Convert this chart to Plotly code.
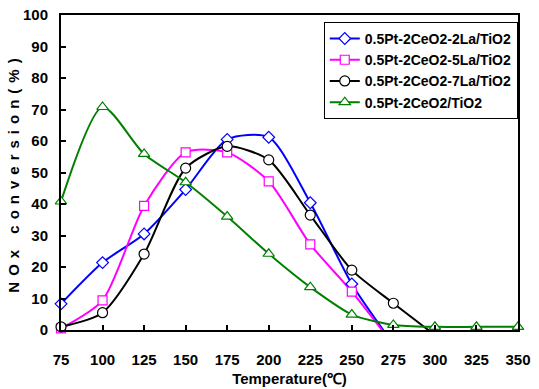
import plotly.graph_objects as go

temps = [75, 100, 125, 150, 175, 200, 225, 250, 275, 300, 325, 350]

la2_x = [75, 100, 125, 150, 175, 200, 225, 250, 275]
la2_y = [8.3, 21.4, 30.5, 44.6, 60.5, 61.2, 40.4, 14.6, -4.5]

la5_x = [75, 100, 125, 150, 175, 200, 225, 250, 275]
la5_y = [0.5, 9.4, 39.4, 56.4, 56.4, 47.2, 27.2, 12.2, -4.7]

la7_x = [75, 100, 125, 150, 175, 200, 225, 250, 275, 300]
la7_y = [1.0, 5.5, 24.1, 51.4, 58.3, 54.0, 36.5, 19.0, 8.5, -1.6]

ce_x = [75, 100, 125, 150, 175, 200, 225, 250, 275, 300, 325, 350]
ce_y = [40.8, 70.8, 55.9, 46.9, 36.0, 24.2, 13.6, 4.9, 1.6, 1.0, 1.0, 1.0]

names = ["0.5Pt-2CeO2-2La/TiO2", "0.5Pt-2CeO2-5La/TiO2",
         "0.5Pt-2CeO2-7La/TiO2", "0.5Pt-2CeO2/TiO2"]
colors = ["#0000FF", "#FF00FF", "#000000", "#008000"]
symbols = ["diamond", "square", "circle", "triangle-up"]
sizes = [9, 9, 10, 10]

FONT = "Liberation Sans, Arial, sans-serif"

fig = go.Figure()
series = [(la2_x, la2_y), (la5_x, la5_y), (la7_x, la7_y), (ce_x, ce_y)]
for i, (xs, ys) in enumerate(series):
    fig.add_trace(go.Scatter(
        x=xs, y=ys, mode="lines", line=dict(color=colors[i], width=2, shape="spline", smoothing=0.7),
        showlegend=False, hoverinfo="skip"))
for i, (xs, ys) in enumerate(series):
    px = [x for x, y in zip(xs, ys) if y >= 0]
    py = [y for y in ys if y >= 0]
    fig.add_trace(go.Scatter(
        x=px, y=py, mode="markers", name=names[i], cliponaxis=False,
        marker=dict(symbol=symbols[i], size=sizes[i], color="white",
                    line=dict(color=colors[i], width=1.2)),
        showlegend=False))
    fig.add_trace(go.Scatter(
        x=[None], y=[None], mode="lines+markers", name="<b>" + names[i] + "</b>",
        line=dict(color=colors[i], width=2),
        marker=dict(symbol=symbols[i], size=sizes[i], color="white",
                    line=dict(color=colors[i], width=1.2))))

fig.update_layout(
    width=539, height=389,
    margin=dict(l=61, r=21, t=15, b=59, autoexpand=False),
    plot_bgcolor="white", paper_bgcolor="white",
    font=dict(family=FONT, size=15, color="black"),
    showlegend=True,
    legend=dict(x=0.575, y=0.978, xanchor="left", yanchor="top",
                bordercolor="black", borderwidth=1, bgcolor="white",
                font=dict(family=FONT, size=14, color="black"),
                tracegroupgap=0, itemwidth=30),
    xaxis=dict(range=[75, 350], tickvals=temps, ticktext=["<b>%d</b>" % t for t in temps],
               showgrid=False, zeroline=False, showline=True, linecolor="black", linewidth=2,
               mirror=True, ticks="inside", ticklen=5, tickcolor="black", tickwidth=1.5,
               automargin=False, ticklabelstandoff=15, ticklabeloverflow="allow",
               tickfont=dict(family=FONT, size=15),
               title=dict(text="<b>Temperature(℃)</b>", standoff=6,
                          font=dict(family=FONT, size=15))),
    yaxis=dict(range=[0, 100], tickvals=list(range(0, 101, 10)),
               ticktext=["<b>%d</b>" % v for v in range(0, 101, 10)],
               showgrid=False, zeroline=False, showline=True, linecolor="black", linewidth=2,
               mirror=True, ticks="inside", ticklen=5, tickcolor="black", tickwidth=1.5,
               automargin=False, ticklabelstandoff=8, ticklabeloverflow="allow",
               tickfont=dict(family=FONT, size=15),
               title=dict(text='<b><span style="letter-spacing:6px">NOx conversion(%)</span></b>', standoff=0,
                          font=dict(family=FONT, size=15))),
)

fig.write_html("out.html", config={"displayModeBar": False},
               post_script="document.body.style.margin='0';")
